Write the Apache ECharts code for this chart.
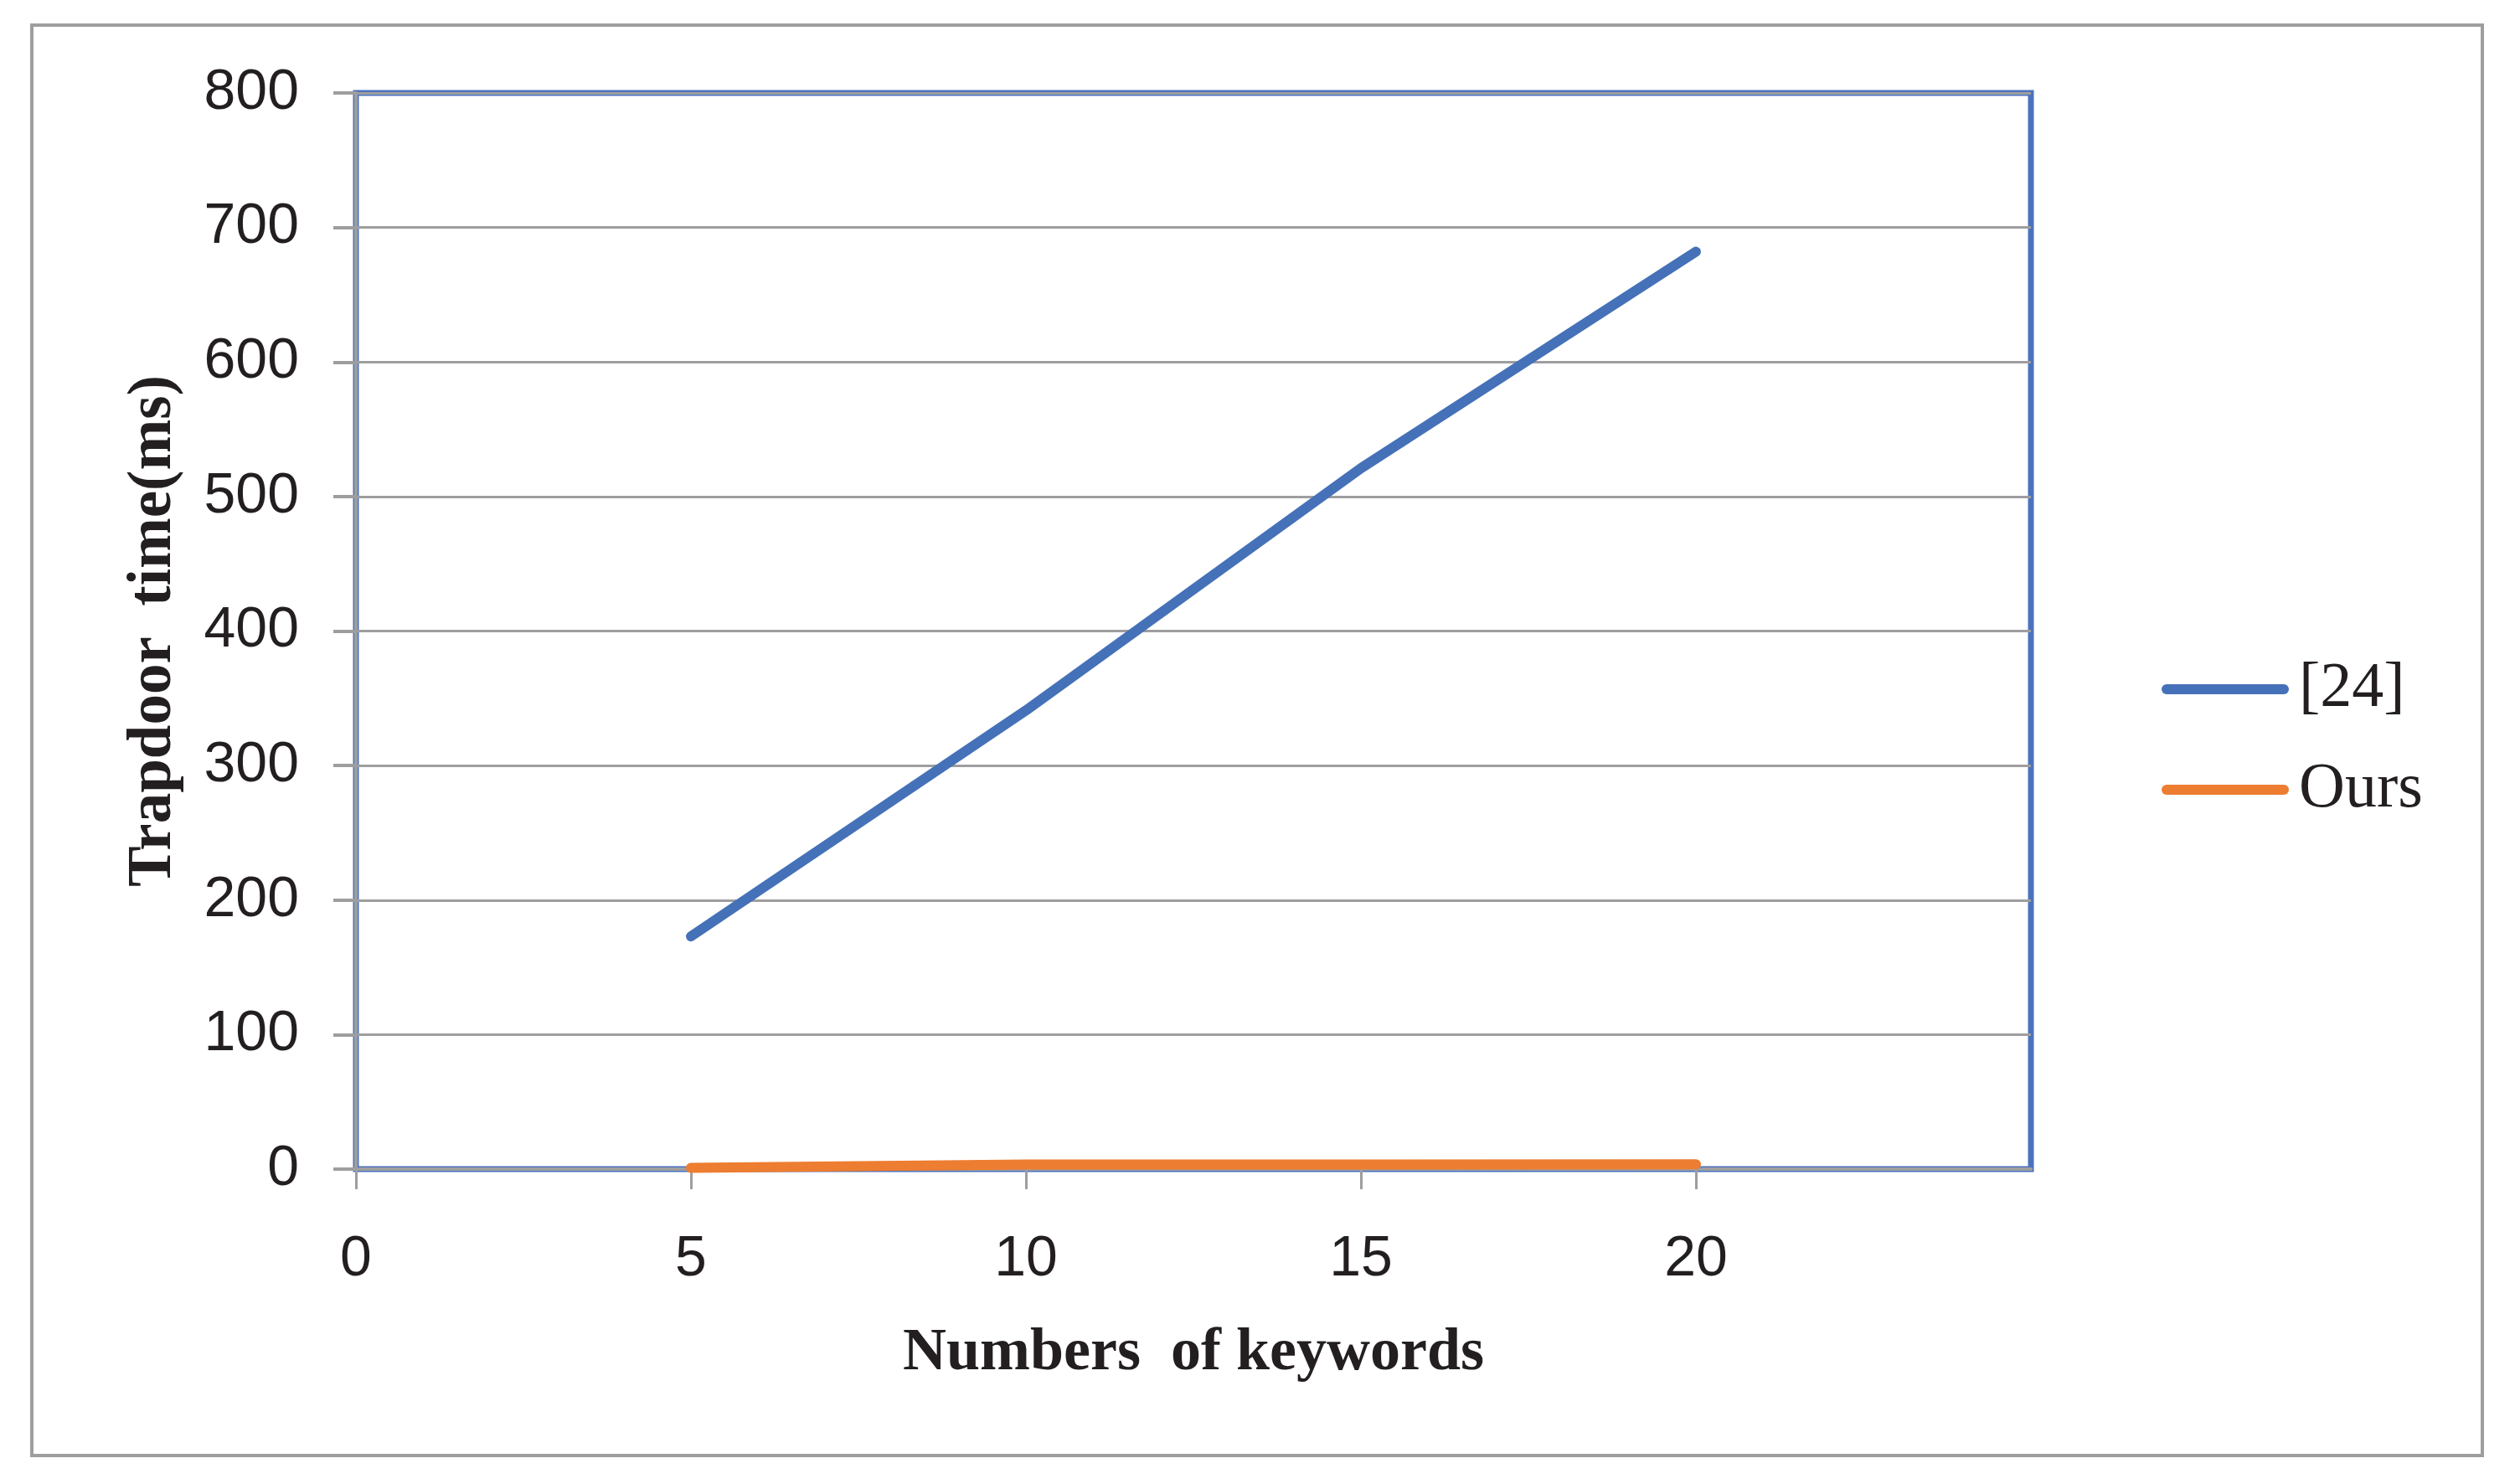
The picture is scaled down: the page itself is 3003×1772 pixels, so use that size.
<!DOCTYPE html>
<html>
<head>
<meta charset="utf-8">
<script src="https://cdn.jsdelivr.net/npm/echarts@6/dist/echarts.min.js"></script>
<style>
  html, body { margin: 0; padding: 0; background: #fff; }
  #chart { width: 3003px; height: 1772px; }
</style>
</head>
<body>
<div id="chart"></div>
<script>
// values
const keywords = [5, 10, 15, 20]
const ref24 = [173, 341, 521, 682]
const ours = [1, 3.4, 3.5, 3.6]
const seriesNames = ['[24]', 'Ours']

const grey = '#9e9ea0'
const textColor = '#231f20'
const serif = '"Liberation Serif", "Times New Roman", serif'
const sans = '"Liberation Sans Narrow", "Liberation Sans", Arial, sans-serif'
// legend swatch: a bar with round ends
const legendIcon = 'path://M6,0 H146 A6,6 0 0 1 146,12 H6 A6,6 0 0 1 6,0 Z'

const toPairs = (ys) => keywords.map((x, i) => [x, ys[i]])

const chart = echarts.init(document.getElementById('chart'))
chart.setOption({
  animation: false,
  backgroundColor: '#fff',
  graphic: [
    {
      type: 'rect',
      shape: { x: 38, y: 30, width: 2926, height: 1708 },
      style: { fill: 'none', stroke: grey, lineWidth: 4 },
      z: -1,
    },
  ],
  grid: {
    left: 425,
    right: 578,
    top: 111,
    bottom: 376,
    show: true,
    borderColor: '#4a73be',
    borderWidth: 7,
  },
  legend: {
    orient: 'vertical',
    left: 2576,
    top: 780,
    itemWidth: 154,
    itemHeight: 12,
    itemGap: 44,
    icon: legendIcon,
    data: seriesNames,
    textStyle: {
      fontFamily: serif,
      fontSize: 76,
      color: textColor,
      padding: [0, 0, 0, 6],
    },
  },
  xAxis: {
    type: 'value',
    min: 0,
    max: 25,
    interval: 5,
    name: 'Numbers  of keywords',
    nameLocation: 'middle',
    nameGap: 184,
    nameTextStyle: {
      fontFamily: serif,
      fontWeight: 'bold',
      fontSize: 72,
      color: textColor,
    },
    axisLine: { show: true, onZero: false, lineStyle: { color: grey, width: 4 } },
    axisTick: { show: true, length: 24, lineStyle: { color: grey, width: 3 } },
    axisLabel: {
      margin: 74,
      fontFamily: sans,
      fontSize: 68,
      color: textColor,
      showMaxLabel: false,
    },
    splitLine: { show: false },
  },
  yAxis: {
    type: 'value',
    min: 0,
    max: 800,
    interval: 100,
    name: 'Trapdoor  time(ms)',
    nameLocation: 'middle',
    nameRotate: 90,
    nameGap: 204,
    nameTextStyle: {
      fontFamily: serif,
      fontWeight: 'bold',
      fontSize: 73,
      color: textColor,
    },
    axisLine: { show: true, lineStyle: { color: grey, width: 4 } },
    axisTick: { show: true, length: 27, lineStyle: { color: grey, width: 4 } },
    axisLabel: {
      margin: 68,
      fontFamily: sans,
      fontSize: 68,
      color: textColor,
    },
    splitLine: { show: true, lineStyle: { color: grey, width: 3 } },
  },
  series: [
    {
      name: seriesNames[0],
      type: 'line',
      data: toPairs(ref24),
      symbol: 'none',
      color: '#4571b8',
      lineStyle: { width: 12, cap: 'round', join: 'round' },
      z: 3,
    },
    {
      name: seriesNames[1],
      type: 'line',
      data: toPairs(ours),
      symbol: 'none',
      color: '#ed7d31',
      lineStyle: { width: 12, cap: 'round', join: 'round' },
      z: 4,
    },
  ],
})
</script>
</body>
</html>
